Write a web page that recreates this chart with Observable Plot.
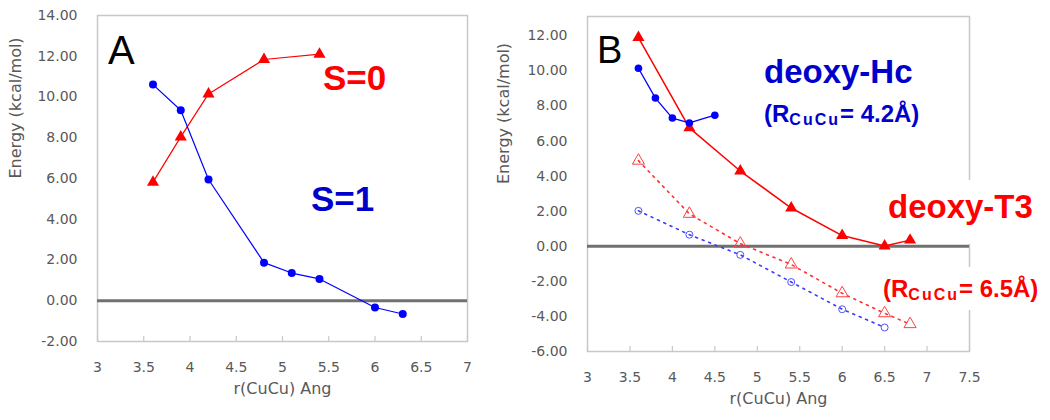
<!DOCTYPE html>
<html>
<head>
<meta charset="utf-8">
<script src="https://cdn.jsdelivr.net/npm/d3@7"></script>
<script src="https://cdn.jsdelivr.net/npm/@observablehq/plot@0.6"></script>
<style>
  html, body { margin: 0; padding: 0; background: #fff; }
  #wrap { position: relative; width: 1050px; height: 420px; overflow: hidden; background: #fff; }
  #panelA, #panelB { position: absolute; top: 0; }
  #panelA { left: 0; }
  #panelB { left: 490px; }
  .ann { position: absolute; font-family: "Liberation Sans", Arial, sans-serif; font-weight: bold; line-height: 1; white-space: nowrap; }
  .ann sub { font-size: 16px; vertical-align: -3px; letter-spacing: 2px; line-height: 1; }
  .mask { position: absolute; background: #fff; }
</style>
</head>
<body>
<div id="wrap">
  <div id="panelA"></div>
  <div id="panelB"></div>
  <div class="mask" style="left:965px; top:180px; width:8px; height:64px;"></div>
  <div class="mask" style="left:965px; top:267px; width:8px; height:43px;"></div>
  <div class="ann" style="left:108px; top:30px; font-size:40px; font-weight:normal; color:#000;">A</div>
  <div class="ann" style="left:323px; top:60px; font-size:35px; color:#ff0000;">S=0</div>
  <div class="ann" style="left:311px; top:181px; font-size:35px; color:#0000cc;">S=1</div>
  <div class="ann" style="left:597px; top:31px; font-size:38px; font-weight:normal; color:#000;">B</div>
  <div class="ann" style="left:764px; top:55px; font-size:33px; color:#0000cc;">deoxy-Hc</div>
  <div class="ann" style="left:764px; top:102px; font-size:24px; color:#0000cc;">(R<sub>CuCu</sub>= 4.2Å)</div>
  <div class="ann" style="left:888px; top:190px; font-size:33px; color:#ff0000;">deoxy-T3</div>
  <div class="ann" style="left:883px; top:277px; font-size:24px; color:#ff0000;">(R<sub>CuCu</sub>= 6.5Å)</div>
</div>
<script>
// ---------- Panel A data ----------
const xA_S1 = [3.6, 3.9, 4.2, 4.8, 5.1, 5.4, 6.0, 6.3];
const yA_S1 = [10.61, 9.35, 5.95, 1.87, 1.36, 1.07, -0.33, -0.65];
const xA_S0 = [3.6, 3.9, 4.2, 4.8, 5.4];
const yA_S0 = [5.82, 8.04, 10.15, 11.84, 12.1];
const xTicksA = [3, 3.5, 4, 4.5, 5, 5.5, 6, 6.5, 7];
const yTicksA = [-2, 0, 2, 4, 6, 8, 10, 12, 14];

// ---------- Panel B data ----------
const xB_T3 = [3.6, 4.2, 4.8, 5.4, 6.0, 6.5, 6.8];
const yB_T3 = [11.9, 6.75, 4.29, 2.18, 0.61, 0.02, 0.35];
const xB_Hc = [3.6, 3.8, 4.0, 4.2, 4.5];
const yB_Hc = [10.15, 8.45, 7.31, 7.03, 7.47];
const xB_T3open = [3.6, 4.2, 4.8, 5.4, 6.0, 6.5, 6.8];
const yB_T3open = [4.88, 1.85, 0.15, -1.04, -2.68, -3.82, -4.44];
const xB_Hcopen = [3.6, 4.2, 4.8, 5.4, 6.0, 6.5];
const yB_Hcopen = [2.02, 0.66, -0.49, -2.04, -3.59, -4.63];
const xTicksB = [3, 3.5, 4, 4.5, 5, 5.5, 6, 6.5, 7, 7.5];
const yTicksB = [-6, -4, -2, 0, 2, 4, 6, 8, 10, 12];

const xTitle = "r(CuCu) Ang";
const yTitle = "Energy (kcal/mol)";

const zip = (xs, ys) => xs.map((x, i) => ({x, y: ys[i]}));

const sA1 = zip(xA_S1, yA_S1), sA0 = zip(xA_S0, yA_S0);
const sBT3 = zip(xB_T3, yB_T3), sBHc = zip(xB_Hc, yB_Hc);
const sBT3o = zip(xB_T3open, yB_T3open), sBHco = zip(xB_Hcopen, yB_Hcopen);

const GRAY = "#595959";
const FRAME = "#c8c8c8";

function commonMarks(xTicks, frameH, dyX, dxY) {
  return [
    Plot.frame({stroke: FRAME, strokeWidth: 1.5}),
    Plot.ruleX(xTicks, {x: d => d, insetTop: frameH - 5, stroke: FRAME, strokeWidth: 1.2}),
    Plot.ruleY([0], {stroke: "#707070", strokeWidth: 3}),
    Plot.text([xTitle], {text: d => d, frameAnchor: "bottom", dy: dyX, fontSize: 16, fill: GRAY}),
    Plot.text([yTitle], {text: d => d, frameAnchor: "left", dx: dxY, rotate: -90, fontSize: 16, fill: GRAY})
  ];
}

const styleObj = {fontFamily: "DejaVu Sans, sans-serif", fontSize: "14px", color: GRAY, background: "transparent", overflow: "visible"};

// Panel A
const plotA = Plot.plot({
  width: 490, height: 420,
  marginLeft: 97, marginRight: 23, marginTop: 15, marginBottom: 79,
  style: styleObj,
  x: {domain: [3, 7], ticks: xTicksA, tickSize: 0, tickPadding: 21, tickFormat: d => String(d), label: null},
  y: {domain: [-2, 14], ticks: yTicksA, tickSize: 0, tickPadding: 20, tickFormat: d => d.toFixed(2), label: null},
  marks: [
    ...commonMarks(xTicksA, 326, 52, -82),
    Plot.line(sA0, {x: "x", y: "y", stroke: "#ff0000", strokeWidth: 1.2}),
    Plot.dot(sA0, {x: "x", y: "y", symbol: "triangle", r: 4.5, fill: "#ff0000", stroke: "none"}),
    Plot.line(sA1, {x: "x", y: "y", stroke: "#0000ff", strokeWidth: 1.2}),
    Plot.dot(sA1, {x: "x", y: "y", symbol: "circle", r: 4, fill: "#0000ff", stroke: "none"})
  ]
});
document.getElementById("panelA").appendChild(plotA);

// Panel B
const plotB = Plot.plot({
  width: 560, height: 420,
  marginLeft: 97, marginRight: 81, marginTop: 16, marginBottom: 69,
  style: styleObj,
  x: {domain: [3, 7.5], ticks: xTicksB, tickSize: 0, tickPadding: 21, tickFormat: d => String(d), label: null},
  y: {domain: [-6, 13.1], ticks: yTicksB, tickSize: 0, tickPadding: 20, tickFormat: d => d.toFixed(2), label: null},
  marks: [
    ...commonMarks(xTicksB, 335, 52, -84),
    Plot.line(sBHco, {x: "x", y: "y", stroke: "#3a3aff", strokeWidth: 1.6, strokeDasharray: "2,5"}),
    Plot.dot(sBHco, {x: "x", y: "y", symbol: "circle", r: 3.5, fill: "none", stroke: "#5050ff", strokeWidth: 1}),
    Plot.line(sBT3o, {x: "x", y: "y", stroke: "#ff3030", strokeWidth: 1.6, strokeDasharray: "2,5"}),
    Plot.dot(sBT3o, {x: "x", y: "y", symbol: "triangle", r: 4.5, fill: "none", stroke: "#ff4040", strokeWidth: 1}),
    Plot.line(sBT3, {x: "x", y: "y", stroke: "#ff0000", strokeWidth: 1.5}),
    Plot.dot(sBT3, {x: "x", y: "y", symbol: "triangle", r: 4.5, fill: "#ff0000", stroke: "none"}),
    Plot.line(sBHc, {x: "x", y: "y", stroke: "#0000ff", strokeWidth: 1.3}),
    Plot.dot(sBHc, {x: "x", y: "y", symbol: "circle", r: 3.8, fill: "#0000ff", stroke: "none"})
  ]
});
document.getElementById("panelB").appendChild(plotB);
</script>
</body>
</html>
